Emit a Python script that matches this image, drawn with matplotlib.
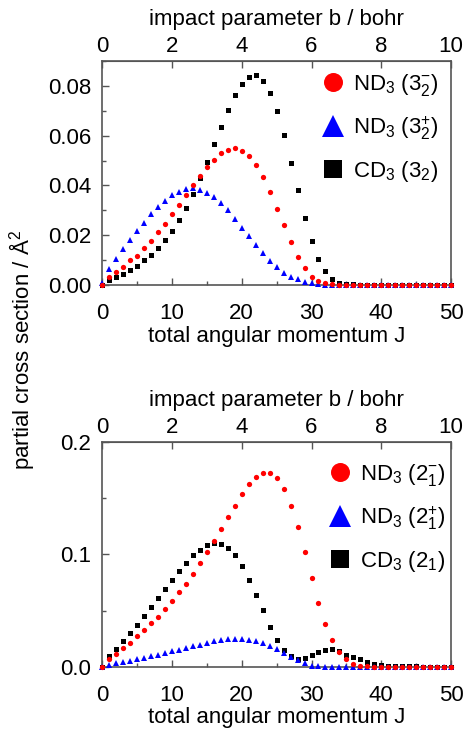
import numpy as np
import matplotlib
matplotlib.use("Agg")
import matplotlib.pyplot as plt
from matplotlib.ticker import MultipleLocator

plt.rcParams['font.family'] = ['Liberation Sans', 'DejaVu Sans']
plt.rcParams['mathtext.fontset'] = 'custom'
plt.rcParams['mathtext.rm'] = 'Liberation Sans'
plt.rcParams['mathtext.it'] = 'Liberation Sans:italic'
plt.rcParams['mathtext.default'] = 'regular'

# === Data ===
J = np.arange(0, 51)

# top panel: 3_2 state
top_nd3_minus = [0.0, 0.0033, 0.0053, 0.0073, 0.0100, 0.0118, 0.0149, 0.0176, 0.0212, 0.0247,
                 0.0284, 0.0321, 0.0360, 0.0400, 0.0437, 0.0473, 0.0504, 0.0529, 0.0544, 0.0551,
                 0.0540, 0.0519, 0.0483, 0.0433, 0.0373, 0.0307, 0.0240, 0.0172, 0.0113, 0.0067,
                 0.0033, 0.0016, 0.0007, 0.0003, 0.0002, 0.0001, 0.0001, 0.0001, 0.0, 0.0,
                 0.0, 0.0, 0.0, 0.0, 0.0, 0.0, 0.0, 0.0, 0.0, 0.0, 0.0]
top_nd3_plus = [0.0010, 0.0063, 0.0103, 0.0143, 0.0180, 0.0216, 0.0251, 0.0284, 0.0313, 0.0339,
                0.0361, 0.0375, 0.0385, 0.0388, 0.0383, 0.0369, 0.0353, 0.0329, 0.0300, 0.0267,
                0.0231, 0.0196, 0.0160, 0.0127, 0.0097, 0.0071, 0.0049, 0.0033, 0.0023, 0.0013,
                0.0007, 0.0003, 0.0002, 0.0001, 0.0001, 0.0, 0.0, 0.0, 0.0, 0.0,
                0.0, 0.0, 0.0, 0.0, 0.0, 0.0, 0.0, 0.0, 0.0, 0.0, 0.0]
top_cd3 = [0.0, 0.0020, 0.0031, 0.0044, 0.0060, 0.0077, 0.0099, 0.0120, 0.0147, 0.0180,
           0.0217, 0.0260, 0.0309, 0.0365, 0.0429, 0.0493, 0.0565, 0.0636, 0.0704, 0.0763,
           0.0809, 0.0837, 0.0843, 0.0821, 0.0772, 0.0699, 0.0603, 0.0492, 0.0380, 0.0271,
           0.0177, 0.0105, 0.0057, 0.0025, 0.0008, 0.0004, 0.0003, 0.0002, 0.0002, 0.0001,
           0.0001, 0.0001, 0.0001, 0.0001, 0.0001, 0.0, 0.0, 0.0, 0.0, 0.0, 0.0]

# bottom panel: 2_1 state
bot_nd3_minus = [0.0, 0.0071, 0.0116, 0.0170, 0.0217, 0.0274, 0.0333, 0.0393, 0.0446, 0.0515,
                 0.0586, 0.0664, 0.0741, 0.0830, 0.0920, 0.1018, 0.1122, 0.1223, 0.1333, 0.1435,
                 0.1536, 0.1622, 0.1690, 0.1726, 0.1723, 0.1679, 0.1583, 0.1435, 0.1241, 0.1018,
                 0.0789, 0.0571, 0.0384, 0.0238, 0.0130, 0.0071, 0.0030, 0.0012, 0.0005, 0.0002,
                 0.0001, 0.0, 0.0, 0.0, 0.0, 0.0, 0.0, 0.0, 0.0, 0.0, 0.0]
bot_nd3_plus = [0.0, 0.0021, 0.0033, 0.0045, 0.0057, 0.0071, 0.0083, 0.0095, 0.0110, 0.0125,
                0.0140, 0.0155, 0.0170, 0.0185, 0.0199, 0.0214, 0.0229, 0.0241, 0.0247, 0.0253,
                0.0250, 0.0241, 0.0229, 0.0211, 0.0190, 0.0161, 0.0120, 0.0085, 0.0060, 0.0036,
                0.0012, 0.0005, 0.0003, 0.0002, 0.0001, 0.0001, 0.0, 0.0, 0.0, 0.0,
                0.0, 0.0, 0.0, 0.0, 0.0, 0.0, 0.0, 0.0, 0.0, 0.0, 0.0]
bot_cd3 = [0.0, 0.0095, 0.0164, 0.0232, 0.0301, 0.0375, 0.0452, 0.0530, 0.0610, 0.0690,
           0.0771, 0.0851, 0.0923, 0.0991, 0.1042, 0.1086, 0.1104, 0.1092, 0.1057, 0.0994,
           0.0899, 0.0777, 0.0640, 0.0503, 0.0357, 0.0238, 0.0149, 0.0095, 0.0071, 0.0077,
           0.0104, 0.0131, 0.0152, 0.0158, 0.0140, 0.0107, 0.0089, 0.0071, 0.0048, 0.0024,
           0.0018, 0.0012, 0.0009, 0.0007, 0.0006, 0.0005, 0.0004, 0.0003, 0.0003, 0.0002, 0.0002]

top_labels = [r'ND$_3$ ($3_2^{-}$)', r'ND$_3$ ($3_2^{+}$)', r'CD$_3$ ($3_2$)']
bot_labels = [r'ND$_3$ ($2_1^{-}$)', r'ND$_3$ ($2_1^{+}$)', r'CD$_3$ ($2_1$)']

SPINE = '#555555'
FS = 16


def style_panel(ax, ymax, ymajor, yminor, yfmt):
    ax.set_xlim(0, 50)
    ax.set_ylim(0, ymax)
    ax.xaxis.set_major_locator(MultipleLocator(10))
    ax.xaxis.set_minor_locator(MultipleLocator(5))
    ax.yaxis.set_major_locator(MultipleLocator(ymajor))
    ax.yaxis.set_minor_locator(MultipleLocator(yminor))
    ax.yaxis.set_major_formatter(plt.FormatStrFormatter(yfmt))
    ax.tick_params(which='both', direction='in', color=SPINE, labelsize=FS, right=False, top=False)
    ax.tick_params(which='major', length=5, width=1)
    ax.tick_params(which='minor', length=3, width=1)
    ax.tick_params(axis='x', which='both', pad=13)
    ax.tick_params(axis='y', which='both', pad=8)
    for s in ax.spines.values():
        s.set_color(SPINE)
        s.set_linewidth(1.2)
    ax.set_xlabel('total angular momentum J', fontsize=FS, labelpad=1)
    sec = ax.secondary_xaxis('top', functions=(lambda x: x / 5.0, lambda b: b * 5.0))
    sec.xaxis.set_major_locator(MultipleLocator(2))
    sec.tick_params(direction='in', length=5, width=1, color=SPINE, labelsize=FS, pad=3)
    sec.set_xlabel('impact parameter b / bohr', fontsize=FS, labelpad=8)
    sec.spines['top'].set_color(SPINE)


def draw_panel(ax, minus, plus, cd3, labels, anchor):
    h3, = ax.plot(J, cd3, 's', color='black', ms=3.6, mew=0, clip_on=False, zorder=3)
    h2, = ax.plot(J, plus, '^', color='blue', ms=4.6, mew=0, clip_on=False, zorder=3)
    h1, = ax.plot(J, minus, 'o', color='red', ms=3.8, mew=0, clip_on=False, zorder=3)
    ax.legend([h1, h2, h3], labels, loc='upper right', bbox_to_anchor=anchor,
              frameon=False, fontsize=FS, markerscale=3.6, handletextpad=0.3,
              labelspacing=0.75, borderaxespad=0.0, handlelength=1.2)


fig = plt.figure(figsize=(4.68, 7.31), dpi=100)
ax1 = fig.add_axes([0.218, 0.610, 0.746, 0.3066])
ax2 = fig.add_axes([0.218, 0.0876, 0.746, 0.3078])

draw_panel(ax1, top_nd3_minus, top_nd3_plus, top_cd3, top_labels, (0.99, 0.99))
style_panel(ax1, 0.09, 0.02, 0.01, '%.2f')

draw_panel(ax2, bot_nd3_minus, bot_nd3_plus, bot_cd3, bot_labels, (1.01, 0.95))
style_panel(ax2, 0.2, 0.1, 0.05, '%.1f')

fig.text(0.047, 0.521, r'partial cross section / $\mathrm{\AA}^2$', rotation=90,
         fontsize=FS, ha='center', va='center')

fig.savefig('out.png', dpi=100)
